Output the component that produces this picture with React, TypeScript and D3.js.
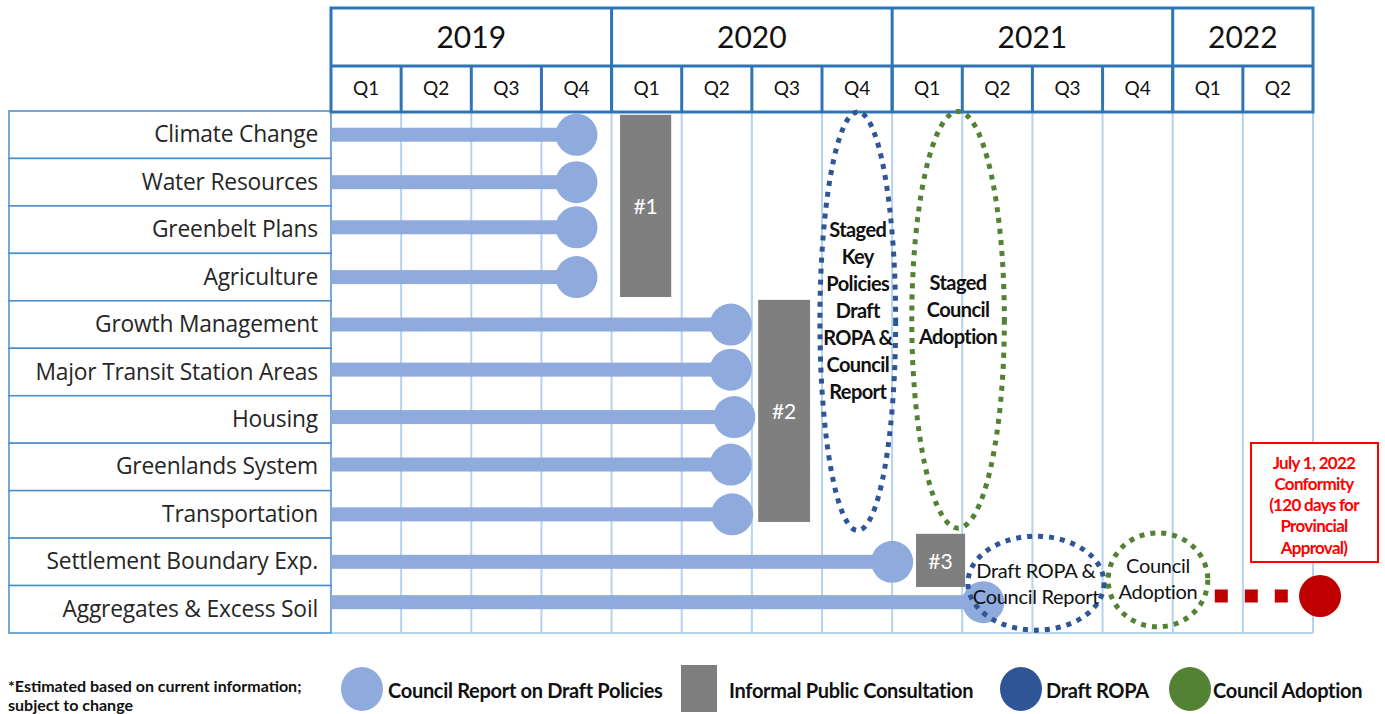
import * as d3 from 'd3'
import React from 'react'

const years = ['2019', '2020', '2021', '2022']
const quartersPerYear = [4, 4, 4, 2]
const quarterNames = ['Q1', 'Q2', 'Q3', 'Q4']

const topics = [
  'Climate Change',
  'Water Resources',
  'Greenbelt Plans',
  'Agriculture',
  'Growth Management',
  'Major Transit Station Areas',
  'Housing',
  'Greenlands System',
  'Transportation',
  'Settlement Boundary Exp.',
  'Aggregates & Excess Soil',
]
// quarter position (0 = start of 2019 Q1) of the council report on draft policies
const reportAt = [3.5, 3.5, 3.5, 3.5, 5.7, 5.7, 5.75, 5.7, 5.72, 8.0, 9.3]
// vertical position (in rows) of each topic's bar
const barRow = [0.5, 1.5, 2.45, 3.5, 4.5, 5.45, 6.45, 7.45, 8.5, 9.5, 10.35]

// informal public consultation blocks: quarter span and row span
const consultLabels = ['#1', '#2', '#3']
const consultFrom = [4.12, 6.09, 8.34]
const consultTo = [4.85, 6.83, 9.04]
const consultRowFrom = [0.08, 3.98, 8.91]
const consultRowTo = [3.92, 8.66, 10.03]

// dotted stage ellipses: centre (quarter, row), radius (quarters, rows)
const stageLines = [
  ['Staged', 'Key', 'Policies', 'Draft', 'ROPA &', 'Council', 'Report'],
  ['Staged', 'Council', 'Adoption'],
  ['Draft ROPA &', 'Council Report'],
  ['Council', 'Adoption'],
]
const stageKind = ['ropa', 'adopt', 'ropa', 'adopt']
const stageCx = [7.51, 8.94, 10.05, 11.79]
const stageCy = [4.43, 4.4, 9.95, 9.88]
const stageRx = [0.54, 0.66, 0.97, 0.71]
const stageRy = [4.41, 4.39, 0.99, 0.99]
const stageBold = [true, true, false, false]
const stageTextShift = [-11, -11, 0, -2]

const conformityFrom = 12.6
const conformityTo = 13.82
const conformityAt = 14.1
const conformityRow = 10.22
const conformityText = ['July 1, 2022', 'Conformity', '(120 days for', 'Provincial', 'Approval)']

const noteLines = ['*Estimated based on current information;', 'subject to change']
const legendItems = ['Council Report on Draft Policies', 'Informal Public Consultation', 'Draft ROPA', 'Council Adoption']

const C = {
  header: '#2e75b6',
  grid: '#b4d3ee',
  labelBorder: '#4a8ccb',
  bar: '#8faadc',
  grey: '#7f7f7f',
  ropa: '#2f5597',
  adopt: '#548235',
  red: '#c00000',
  red2: '#ff0000',
  text: '#262626',
}
const FONT = 'Lato, "Open Sans", sans-serif'
const LABEL_FONT = '"Open Sans", Lato, sans-serif'

export default function App() {
  const width = 1385
  const height = 714
  const nQ = d3.sum(quartersPerYear)
  const x = d3.scaleLinear().domain([0, nQ]).range([331, 1313])
  const row = d3.scaleLinear().domain([0, topics.length]).range([111, 633])
  const band = d3.scaleBand<string>().domain(topics).range([111, 633])
  const yearTop = 8
  const yearBottom = 66
  const headBottom = 112
  const labelLeft = 9

  const yearStarts = d3.cumsum([0, ...quartersPerYear]).slice(0, years.length)
  const quarters = quartersPerYear.flatMap((n) => quarterNames.slice(0, n))
  const dr = row(1) - row(0)
  const r = 21

  return (
    <svg width={width} height={height} style={{ position: 'absolute', left: 0, top: 0, fontFamily: FONT }}>
      <rect width={width} height={height} fill="#fff" />

      {/* grid */}
      {d3.range(1, nQ + 1).map((i) => (
        <line key={'g' + i} x1={x(i)} x2={x(i)} y1={headBottom} y2={row(topics.length)} stroke={C.grid} strokeWidth={2} />
      ))}
      <line x1={x(0)} x2={x(nQ)} y1={row(topics.length)} y2={row(topics.length)} stroke={C.grid} strokeWidth={2} />

      {/* label column */}
      {topics.map((t) => (
        <g key={t}>
          <rect x={labelLeft} y={band(t)!} width={x(0) - labelLeft} height={band.bandwidth()} fill="#fff" stroke={C.labelBorder} strokeWidth={1.5} />
          <text x={x(0) - 13} y={band(t)! + band.bandwidth() / 2 - 1} textAnchor="end" dominantBaseline="central" fontSize={22.8} fill={C.text} fontFamily={LABEL_FONT} letterSpacing={-0.2}>
            {t}
          </text>
        </g>
      ))}

      {/* header */}
      <rect x={x(0)} y={yearTop} width={x(nQ) - x(0)} height={headBottom - yearTop} fill="#fff" stroke={C.header} strokeWidth={3} />
      <line x1={x(0)} x2={x(nQ)} y1={yearBottom} y2={yearBottom} stroke={C.header} strokeWidth={3} />
      {years.map((yr, i) => (
        <g key={yr}>
          {i > 0 && <line x1={x(yearStarts[i])} x2={x(yearStarts[i])} y1={yearTop} y2={headBottom} stroke={C.header} strokeWidth={3} />}
          <text x={(x(yearStarts[i]) + x(yearStarts[i] + quartersPerYear[i])) / 2} y={(yearTop + yearBottom) / 2 - 1} textAnchor="middle" dominantBaseline="central" fontSize={30} fill="#111">
            {yr}
          </text>
        </g>
      ))}
      {quarters.map((q, i) => (
        <g key={'q' + i}>
          {i > 0 && <line x1={x(i)} x2={x(i)} y1={yearBottom} y2={headBottom} stroke={C.header} strokeWidth={3} />}
          <text x={x(i + 0.5)} y={(yearBottom + headBottom) / 2 - 2} textAnchor="middle" dominantBaseline="central" fontSize={19} fill="#111">
            {q}
          </text>
        </g>
      ))}

      {/* council report bars */}
      {topics.map((t, i) => {
        const cy = row(barRow[i])
        return (
          <g key={'b' + t}>
            <rect x={x(0)} y={cy - 7} width={x(reportAt[i]) - x(0)} height={14} fill={C.bar} />
            <circle cx={x(reportAt[i])} cy={cy} r={r} fill={C.bar} />
          </g>
        )
      })}

      {/* consultations */}
      {consultLabels.map((l, i) => (
        <g key={l}>
          <rect x={x(consultFrom[i])} y={row(consultRowFrom[i])} width={x(consultTo[i]) - x(consultFrom[i])} height={row(consultRowTo[i]) - row(consultRowFrom[i])} fill={C.grey} />
          <text x={x((consultFrom[i] + consultTo[i]) / 2)} y={row((consultRowFrom[i] + consultRowTo[i]) / 2)} textAnchor="middle" dominantBaseline="central" fontSize={21} fill="#fff">
            {l}
          </text>
        </g>
      ))}

      {/* stage ellipses */}
      {stageLines.map((lines, i) => {
        const cx = x(stageCx[i])
        const cy = row(stageCy[i])
        const lh = stageBold[i] ? 27 : 26
        const top = cy + stageTextShift[i] - ((lines.length - 1) * lh) / 2
        return (
          <g key={'s' + i}>
            <ellipse cx={cx} cy={cy} rx={x(stageRx[i]) - x(0)} ry={stageRy[i] * dr} fill="none" stroke={stageKind[i] === 'ropa' ? C.ropa : C.adopt} strokeWidth={5} strokeDasharray="5 6" />
            {lines.map((ln, j) => (
              <text key={j} x={cx} y={top + j * lh} textAnchor="middle" dominantBaseline="central" fontSize={20} fontWeight={stageBold[i] ? 700 : 400} fill="#111" letterSpacing={stageBold[i] ? -0.6 : -0.3}>
                {ln}
              </text>
            ))}
          </g>
        )
      })}

      {/* conformity */}
      <line x1={x(conformityFrom)} x2={x(conformityTo)} y1={row(conformityRow)} y2={row(conformityRow)} stroke={C.red} strokeWidth={13} strokeDasharray="13 17" />
      <circle cx={x(conformityAt)} cy={row(conformityRow)} r={r} fill={C.red} />
      <rect x={1251} y={443} width={127} height={119} fill="#fff" stroke={C.red2} strokeWidth={2} />
      {conformityText.map((t, j) => (
        <text key={t} x={1314} y={462 + j * 21.3} textAnchor="middle" dominantBaseline="central" fontSize={17} fontWeight={700} fill={C.red2} letterSpacing={-0.7}>
          {t}
        </text>
      ))}

      {/* legend */}
      {noteLines.map((t, j) => (
        <text key={t} x={8} y={685 + j * 19} fontSize={16} fontWeight={700} fill="#111" dominantBaseline="central">
          {t}
        </text>
      ))}
      <ellipse cx={362} cy={689} rx={21} ry={22} fill={C.bar} />
      <text x={388} y={690} fontSize={20} fontWeight={700} fill="#111" dominantBaseline="central" letterSpacing={-0.3}>{legendItems[0]}</text>
      <rect x={681} y={665} width={36} height={47} fill={C.grey} />
      <text x={729} y={690} fontSize={20} fontWeight={700} fill="#111" dominantBaseline="central" letterSpacing={-0.3}>{legendItems[1]}</text>
      <ellipse cx={1021} cy={689} rx={21} ry={22} fill={C.ropa} />
      <text x={1046} y={690} fontSize={20} fontWeight={700} fill="#111" dominantBaseline="central" letterSpacing={-0.3}>{legendItems[2]}</text>
      <ellipse cx={1190} cy={689} rx={21} ry={22} fill={C.adopt} />
      <text x={1213} y={690} fontSize={20} fontWeight={700} fill="#111" dominantBaseline="central" letterSpacing={-0.3}>{legendItems[3]}</text>
    </svg>
  )
}
